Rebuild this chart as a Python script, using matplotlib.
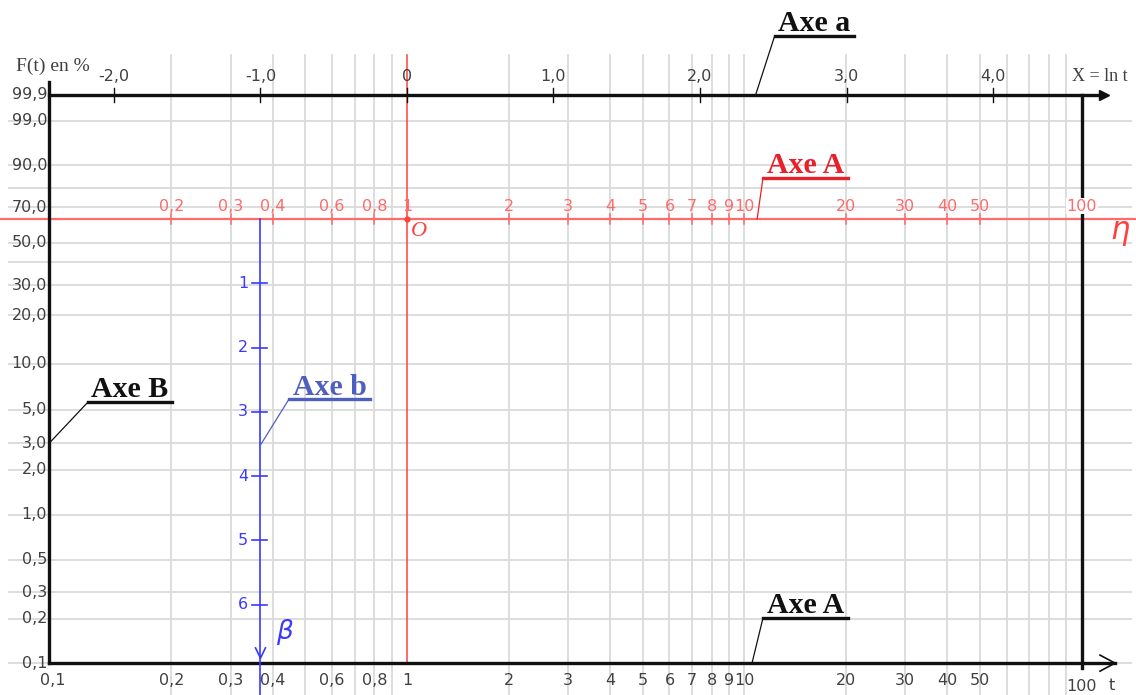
import numpy as np
import matplotlib.pyplot as plt

# Weibull paper: X = ln t (horizontal), Y = ln(-ln(1-F)) (vertical)
t_grid = [0.2, 0.3, 0.4, 0.5, 0.6, 0.7, 0.8, 0.9, 2, 3, 4, 5, 6, 7, 8, 9,
          10, 20, 30, 40, 50, 60, 70, 80, 90]
t_labels = [0.2, 0.3, 0.4, 0.6, 0.8, 1, 2, 3, 4, 5, 6, 7, 8, 9, 10, 20, 30, 40, 50]
F_grid = [0.1, 0.2, 0.3, 0.5, 1, 2, 3, 5, 10, 20, 30, 40, 50, 70, 80, 90, 99]
F_labels = [0.1, 0.2, 0.3, 0.5, 1, 2, 3, 5, 10, 20, 30, 50, 70, 90, 99, 99.9]
ln_ticks = [-2, -1, 0, 1, 2, 3, 4]
beta_ticks = [1, 2, 3, 4, 5, 6]
T_MAX = 100
BETA_X = -1.0


def wy(F):
    return np.log(-np.log(1 - np.asarray(F, float) / 100))


def fr(v, nd=1):
    return f"{v:.{nd}f}".replace(".", ",")


def tlab(t):
    return fr(t) if t < 1 else str(int(t))


GRID = "#dadada"
RED = "#ff4040"
RED_L = "#ff6a6a"
BLUE = "#3a3aff"
SLATE = "#4f5fc0"
TXT = "#404040"
SANS = "DejaVu Sans"
SERIF = "Liberation Serif"
FS = 11.5

fig = plt.figure(figsize=(11.36, 6.95), dpi=100)
ax = fig.add_axes([0, 0, 1, 1])
X0, X1 = -2.778, 4.976
Y0, Y1 = -7.403, 3.406
ax.set_xlim(X0, X1)
ax.set_ylim(Y0, Y1)
ax.axis("off")

Y_TOP, Y_BOT = wy(99.9), wy(0.1)
X_LEFT = -2.444
X_100 = np.log(T_MAX)

# grid
for t in t_grid:
    ax.plot([np.log(t)] * 2, [2.55, Y0], color=GRID, lw=1.3, zorder=1)
ax.hlines(wy(F_grid), -2.724, 4.949, color=GRID, lw=1.3, zorder=1)

# red axis A (eta) and origin
ax.axhline(0, color=RED_L, lw=1.6, zorder=2)
ax.plot([0, 0], [2.55, Y_BOT], color=RED, lw=1.1, zorder=2)
for t in t_labels + [T_MAX]:
    ax.plot([np.log(t)] * 2, [-0.07, 0.07], color=RED_L, lw=1.1, zorder=2)
    ax.text(np.log(t), 0.2, tlab(t), color=RED_L, fontsize=FS, family=SANS,
            ha="center", va="center", zorder=4,
            bbox=dict(fc="white", ec="none", pad=0.5) if t == T_MAX else None)
ax.plot(0, 0, "o", color=RED, ms=3.5, zorder=5)
ax.text(0.08, -0.2, "O", color=RED, fontsize=16, family=SERIF, style="italic",
        ha="center", va="center")
ax.text(4.87, -0.22, r"$\eta$", color=RED, fontsize=22, ha="center", va="center")

# black axes
K = "#111111"
ax.plot([X_LEFT, X_LEFT], [Y_BOT, 2.13], color=K, lw=2.4, zorder=3)
ax.plot([X_LEFT, 4.73], [Y_TOP, Y_TOP], color=K, lw=2.4, zorder=3)
ax.plot(4.76, Y_TOP, ">", color=K, ms=7, zorder=3)
ax.plot([X_LEFT, 4.833], [Y_BOT, Y_BOT], color=K, lw=2.4, zorder=3)
ax.plot([4.73, 4.833, 4.73], [Y_BOT + 0.125, Y_BOT, Y_BOT - 0.125], color=K, lw=1.2, zorder=3)
ax.plot([X_100, X_100], [Y_TOP, -6.98], color=K, lw=2.4, zorder=3)
for v in ln_ticks:
    ax.plot([v, v], [Y_TOP - 0.11, Y_TOP + 0.11], color=K, lw=1, zorder=3)
    ax.text(v, 2.22, "0" if v == 0 else fr(v), color=TXT, fontsize=FS,
            family=SANS, ha="center", va="center")
ax.text(4.73, 2.22, "X = ln t", color=TXT, fontsize=13, family=SERIF,
        ha="center", va="center")
ax.text(-2.42, 2.38, "F(t) en %", color=TXT, fontsize=14, family=SERIF,
        ha="center", va="center")

# left F labels
for F in F_labels:
    ax.text(-2.457, wy(F), fr(F), color=TXT, fontsize=FS, family=SANS,
            ha="right", va="center")

# bottom t labels
ax.text(-2.42, -7.17, "0,1", color=TXT, fontsize=FS, family=SANS, ha="center", va="center")
for t in t_labels:
    ax.text(np.log(t), -7.17, tlab(t), color=TXT, fontsize=FS, family=SANS,
            ha="center", va="center")
ax.text(X_100, -7.27, str(T_MAX), color=TXT, fontsize=FS, family=SANS, ha="center", va="center")
ax.text(4.81, -7.25, "t", color=TXT, fontsize=FS, family=SANS, ha="center", va="center")

# blue axis b (beta)
ax.plot([BETA_X, BETA_X], [0, Y0], color=BLUE, lw=1.2, zorder=3)
for b in beta_ticks:
    ax.plot([BETA_X - 0.06, BETA_X + 0.045], [-b, -b], color=BLUE, lw=1.2, zorder=3)
    ax.text(BETA_X - 0.085, -b, str(b), color=BLUE, fontsize=FS, family=SANS,
            ha="right", va="center")
ax.plot([BETA_X - 0.034, BETA_X, BETA_X + 0.034], [-6.67, -6.83, -6.67],
        color=BLUE, lw=1.2, zorder=3)
ax.text(-0.833, -6.42, r"$\beta$", color=BLUE, fontsize=19, ha="center", va="center")


# annotations with underline + leader
def label(txt, color, x0, x1, yu, xe, ye):
    ax.text((x0 + x1) / 2, yu + 0.07, txt, color=color, fontsize=21.5,
            family=SERIF, weight="bold", ha="center", va="baseline", zorder=6)
    ax.plot([x0, x1], [yu, yu], color=color, lw=2.4, zorder=6)
    ax.plot([x0, xe], [yu, ye], color=color, lw=0.9, zorder=6)


label("Axe a", K, 2.51, 3.05, 2.85, 2.38, Y_TOP)
label("Axe A", "#e8202a", 2.43, 3.01, 0.64, 2.39, 0)
label("Axe A", K, 2.43, 3.01, -6.205, 2.355, Y_BOT)
label("Axe B", K, -2.177, -1.604, -2.846, X_LEFT, wy(3))
label("Axe b", SLATE, -0.805, -0.253, -2.80, BETA_X, -3.515)

fig.savefig("out.png", dpi=100)
